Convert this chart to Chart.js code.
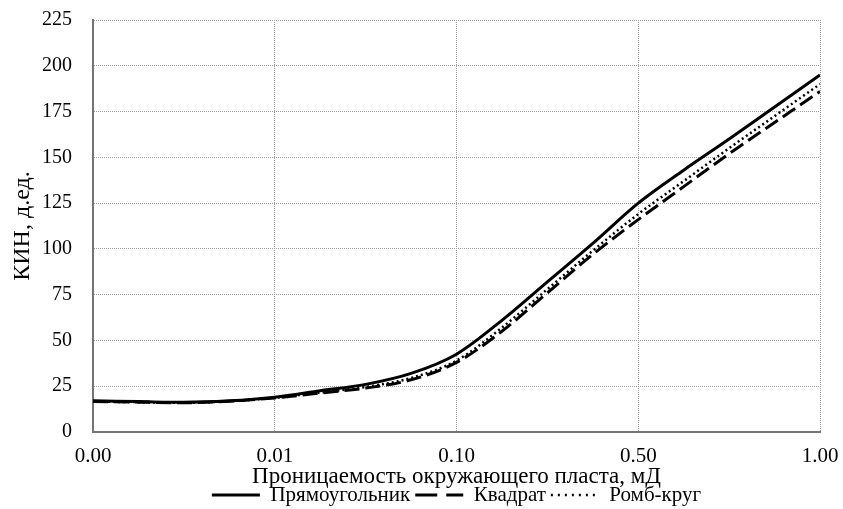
<!DOCTYPE html>
<html><head><meta charset="utf-8">
<script src="https://cdn.jsdelivr.net/npm/chart.js@4.4.1/dist/chart.umd.min.js"></script>
<style>html,body{margin:0;padding:0;background:#fff}#wrap{width:843px;height:509px;position:relative}</style>
</head><body><div id="wrap"><canvas id="c"></canvas></div>
<script>
// Category tick labels of the x axis (equally spaced)
const xTickLabels = ['0.00', '0.01', '0.10', '0.50', '1.00'];
// Sample positions along the category axis (index units)
const xPositions = [0, 0.25, 0.5, 0.75, 1, 1.25, 1.5, 1.75, 2, 2.25, 2.5, 2.75, 3, 3.25, 3.5, 3.75, 4];
// Series values (КИН, д.ед.)
const rectangle   = [17, 16.6, 16.2, 17, 19, 22.5, 26, 32, 42.5, 61, 82, 103, 125, 143, 160, 177.5, 195];
const square      = [16.6, 16.3, 16, 16.8, 18.6, 21.3, 24, 28.5, 38, 55, 76, 97, 116, 134, 152, 169, 186];
const rhombCircle = [16.6, 16.3, 16, 16.8, 18.7, 21.6, 24.6, 29.5, 39, 57, 78, 99, 119, 137, 155, 172.5, 190];
const seriesNames = ['Прямоугольник', 'Квадрат', 'Ромб-круг'];
const yTickLabels = [0, 25, 50, 75, 100, 125, 150, 175, 200, 225];

const FONT = '"Liberation Serif", "Times New Roman", serif';
const pts = arr => xPositions.map((x, i) => ({x, y: arr[i]}));
const legendDash = [[], [22, 9], [2, 5]];

const common = {borderColor: '#000', backgroundColor: '#000', pointRadius: 0, fill: false,
  cubicInterpolationMode: 'monotone', borderCapStyle: 'butt'};

new Chart(document.getElementById('c'), {
  type: 'line',
  data: {
    datasets: [
      Object.assign({label: seriesNames[0], data: pts(rectangle), borderWidth: 3}, common),
      Object.assign({label: seriesNames[1], data: pts(square), borderWidth: 3, borderDash: [15, 6]}, common),
      Object.assign({label: seriesNames[2], data: pts(rhombCircle), borderWidth: 2.5, borderDash: [2, 3]}, common)
    ]
  },
  options: {
    responsive: true, maintainAspectRatio: false, animation: false,
    layout: {padding: {left: 0, right: 23, top: 20, bottom: 1.5}},
    plugins: {
      tooltip: {enabled: false},
      legend: {
        position: 'bottom', fullSize: false, maxHeight: 28,
        labels: {
          color: '#000', font: {family: FONT, size: 21}, padding: 5,
          usePointStyle: true, pointStyle: 'line', pointStyleWidth: 48, boxWidth: 48,
          generateLabels(chart) {
            return chart.data.datasets.map((ds, i) => ({
              text: ds.label, datasetIndex: i, pointStyle: 'line',
              strokeStyle: '#000', fillStyle: '#000', fontColor: '#000',
              lineWidth: ds.borderWidth, lineDash: legendDash[i], lineCap: 'butt', hidden: false
            }));
          }
        }
      }
    },
    scales: {
      x: {
        type: 'linear', min: 0, max: 4,
        afterFit(s) { s.height = 47.5; s.paddingLeft = 0; s.paddingRight = 0; },
        ticks: {stepSize: 1, color: '#000', padding: 14, maxRotation: 0, autoSkip: false,
          font: {family: FONT, size: 21, lineHeight: 1},
          callback: v => xTickLabels[v] !== undefined ? xTickLabels[v] : ''},
        grid: {color: '#a0a0a0', lineWidth: 1, drawTicks: false},
        border: {display: true, color: '#747474', width: 2, dash: [1, 1]},
        title: {display: true, text: 'Проницаемость окружающего пласта, мД', color: '#000',
          font: {family: FONT, size: 23, lineHeight: 1}, padding: {top: 0, bottom: -8.6}}
      },
      y: {
        min: 0, max: 225,
        afterFit(s) { s.width = 93; s.paddingTop = 0; s.paddingBottom = 0; },
        afterBuildTicks(s) { s.ticks = yTickLabels.map(v => ({value: v})); },
        ticks: {color: '#000', padding: 21, font: {family: FONT, size: 20}},
        grid: {color: '#a0a0a0', lineWidth: 1, drawTicks: false},
        border: {display: true, color: '#747474', width: 2, dash: [1, 1]},
        title: {display: true, text: 'КИН, д.ед.', color: '#000',
          font: {family: FONT, size: 24, lineHeight: 1}, padding: {top: 10.5, bottom: 0}}
      }
    }
  }
});
</script>
</body></html>
